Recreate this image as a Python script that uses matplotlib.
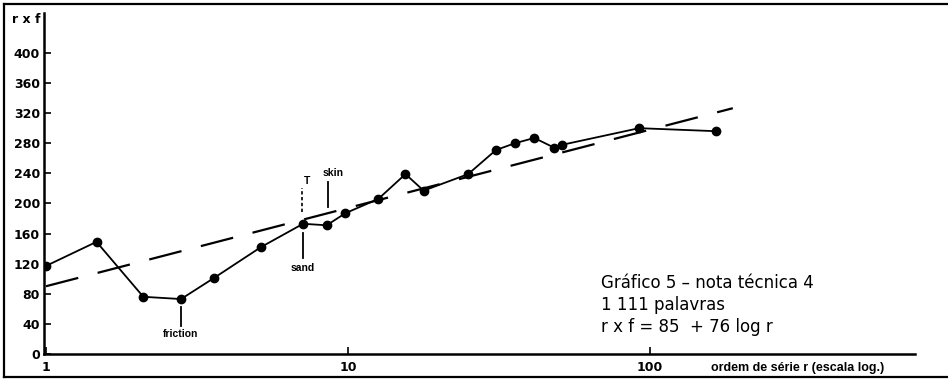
import matplotlib
matplotlib.use("Agg")
import matplotlib.pyplot as plt
import numpy as np
from matplotlib.lines import Line2D

plt.rcParams['font.family'] = ['DejaVu Sans']

# Rank (log scale) and r x f product for each word
rank = [1.0, 1.47, 2.1, 2.8, 3.6, 5.15, 7.1, 8.5, 9.8, 12.6, 15.5, 17.8,
        25.0, 30.9, 35.7, 41.4, 48.2, 51.3, 92.0, 165.0]
rxf = [117, 149, 76, 73, 101, 142, 173, 171, 187, 206, 239, 217,
       239, 271, 280, 287, 274, 278, 300, 296]

# Fitted trend: rxf = a + b log10(r)
trend_a = 90
trend_b = 104
trend_rmax = 188

yticks = list(range(0, 401, 40))
xticks = [1, 10, 100]
xticklabels = ["1", "10", "100"]

# Annotated words: (label, rank, line bottom, line top, label y)
notes_below = [("friction", 2.8, 37, 62, 26), ("sand", 7.1, 128, 161, 114)]

W, H = 948, 382
fig = plt.figure(figsize=(W / 100, H / 100), dpi=100)
ax = fig.add_axes([44 / W, 28 / H, (915 - 44) / W, (354 - 13) / H])

ax.set_xscale('log')
ax.set_xlim(0.985, 754)
ax.set_ylim(0, 453)

r_fit = np.logspace(0, np.log10(trend_rmax), 200)
ax.plot(r_fit, trend_a + trend_b * np.log10(r_fit), color='black', lw=1.6,
        linestyle=(0, (15, 9)), zorder=2)
ax.plot(rank, rxf, color='black', lw=1.3, marker='o', ms=6, zorder=3)

for spine in ['top', 'right']:
    ax.spines[spine].set_visible(False)
ax.spines['left'].set_linewidth(1.8)
ax.spines['bottom'].set_linewidth(1.8)

tick_font = dict(fontsize=9, fontweight='bold')
ax.set_yticks(yticks)
ax.set_yticklabels([str(v) for v in yticks], **tick_font)
ax.tick_params(axis='y', direction='in', length=5, width=1.2, pad=3)
ax.set_xticks(xticks)
ax.set_xticklabels(xticklabels, **tick_font)
ax.xaxis.set_minor_locator(matplotlib.ticker.NullLocator())
ax.tick_params(axis='x', direction='in', length=5, width=1.2, pad=5)

ax.text(-0.004, 445, "r x f", transform=ax.get_yaxis_transform(), ha='right',
        va='center', fontsize=9, fontweight='bold')

note_font = dict(fontsize=7.5, fontweight='bold', family='Liberation Sans')
for label, r, y0, y1, ty in notes_below:
    ax.plot([r, r], [y0, y1], color='black', lw=1.3)
    ax.text(r, ty, label, ha='center', va='center', **note_font)

# "T" and "skin" labels above the curve
ax.plot([7.05, 7.05], [189, 221], color='black', lw=1.2, linestyle=(0, (2, 1.5)))
ax.text(7.3, 230, "T", ha='center', va='center', **note_font)
ax.plot([8.57, 8.57], [195, 229], color='black', lw=1.3)
ax.text(8.9, 240, "skin", ha='center', va='center', **note_font)

fig.text(798 / W, 1 - 368 / H, "ordem de série r (escala log.)",
         ha='center', va='center', fontsize=9, fontweight='bold', family='Liberation Sans')

fig.text(601 / W, 1 - 283 / H, "Gráfico 5 – nota técnica 4", fontsize=12, va='center')
fig.text(601 / W, 1 - 305 / H, "1 111 palavras", fontsize=12, va='center')
fig.text(601 / W, 1 - 327 / H, "r x f = 85  + 76 log r", fontsize=12, va='center')

# Outer frame (top, left, bottom)
fig.add_artist(Line2D([4 / W, 1], [1 - 4 / H, 1 - 4 / H], color='black', lw=1.6))
fig.add_artist(Line2D([4 / W, 4 / W], [1 - 4 / H, 1 - 377 / H], color='black', lw=1.6))
fig.add_artist(Line2D([4 / W, 1], [1 - 377 / H, 1 - 377 / H], color='black', lw=1.6))

fig.savefig("out.png", dpi=100, facecolor='white')
